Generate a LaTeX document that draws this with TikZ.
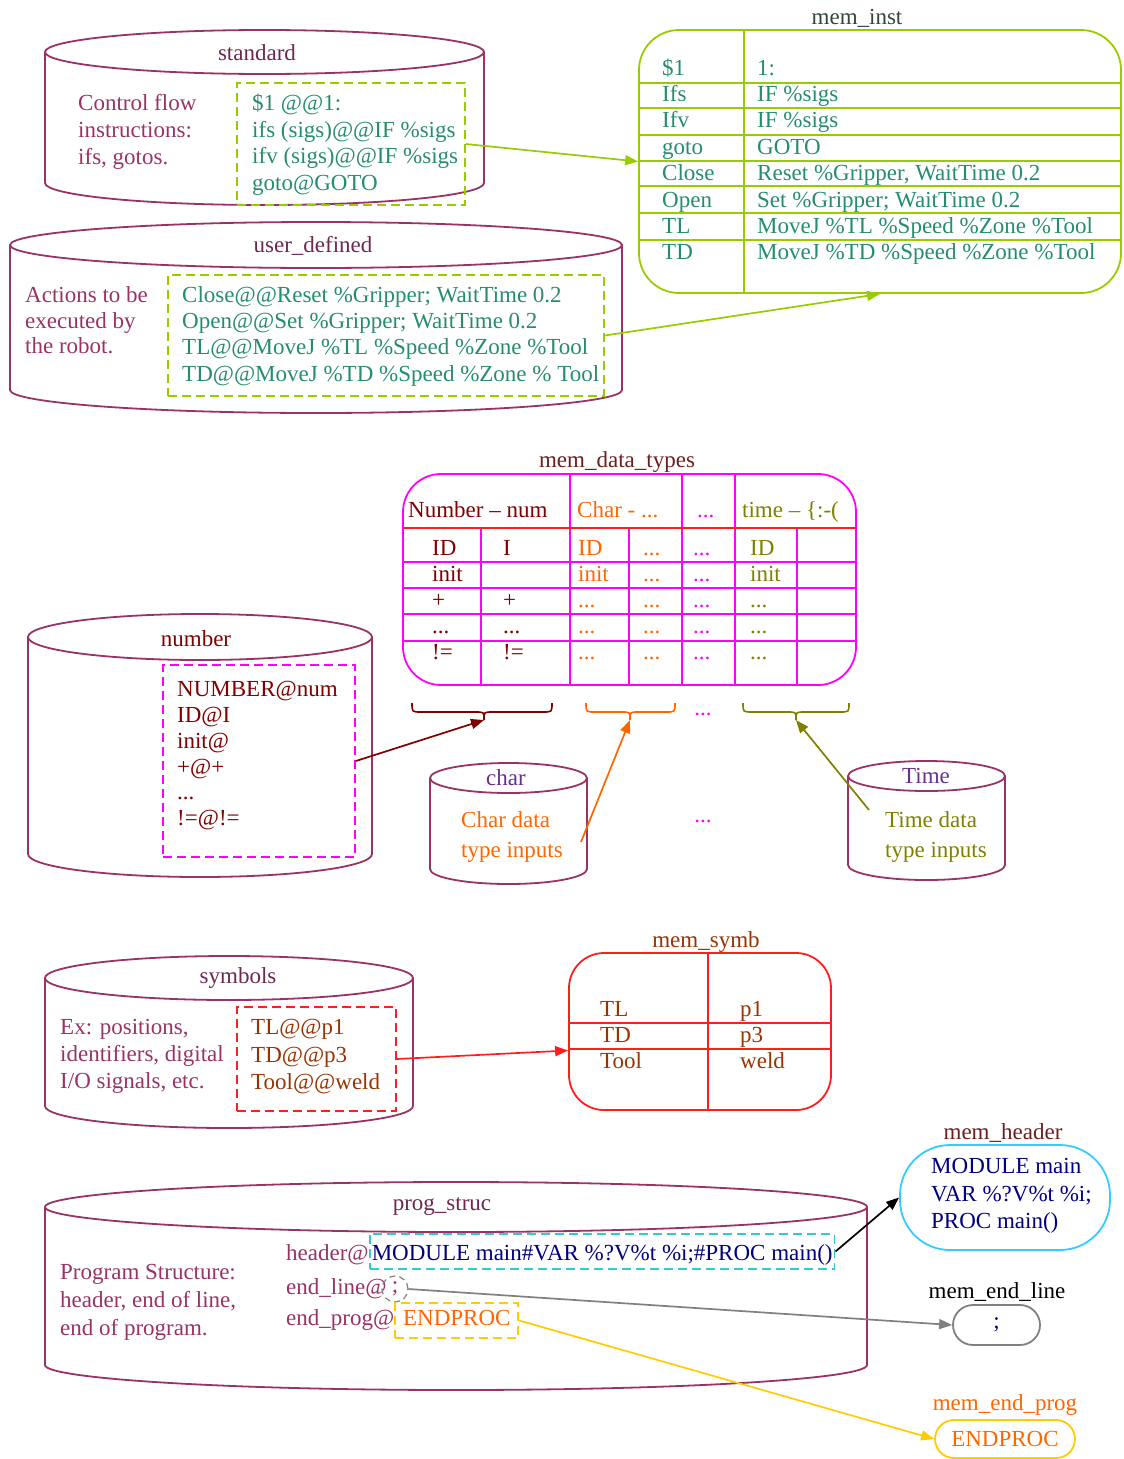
\documentclass[tikz,border=0pt]{standalone}
\usepackage{fontspec}
\setmainfont{Liberation Serif}
\usetikzlibrary{arrows.meta}

\definecolor{drumc}{RGB}{153,51,102}
\definecolor{descc}{RGB}{153,51,102}
\definecolor{ttlc}{RGB}{110,40,80}
\definecolor{codeg}{RGB}{38,140,112}
\definecolor{limeg}{RGB}{153,204,0}
\definecolor{magc}{RGB}{255,0,255}
\definecolor{dredc}{RGB}{128,0,0}
\definecolor{orngc}{RGB}{255,102,0}
\definecolor{olivc}{RGB}{128,128,0}
\definecolor{redc}{RGB}{255,30,30}
\definecolor{brwnc}{RGB}{153,51,0}
\definecolor{cyanc}{RGB}{51,204,204}
\definecolor{navyc}{RGB}{0,0,128}
\definecolor{skyc}{RGB}{51,204,255}
\definecolor{yelc}{RGB}{255,204,0}
\definecolor{grayc}{RGB}{128,128,128}
\definecolor{violc}{RGB}{100,50,140}
\definecolor{instc}{RGB}{50,70,60}
\definecolor{dtc}{RGB}{110,30,30}

% upright drum: left x, right x, top y, bottom y, radius of the end ellipse
\newcommand\drum[5]{%
  \pgfmathsetmacro\dcx{(#1+#2)/2}\pgfmathsetmacro\drx{(#2-#1)/2}%
  \pgfmathsetmacro\dcy{#3+#5}\pgfmathsetmacro\dse{#4-#5}%
  \pgfmathsetmacro\dk{0.5523*#5}\pgfmathsetmacro\dkx{0.5523*\drx}%
  \draw[drumline] (\dcx,\dcy) ellipse [x radius=\drx, y radius=#5];
  \draw[drumline] (#1,\dcy) -- (#1,\dse)
    .. controls (#1,\dse+\dk) and (\dcx-\dkx,#4) .. (\dcx,#4)
    .. controls (\dcx+\dkx,#4) and (#2,\dse+\dk) .. (#2,\dse) -- (#2,\dcy);
}
% curly brace opening upwards, tip pointing down
\newcommand\ubrace[5]{% left x, right x, top y, tip x, colour
  \draw[line width=1.6pt, #5] (#1,#3) .. controls (#1,#3+9) .. (#1+9,#3+9) -- (#4-8,#3+9)
    .. controls (#4,#3+9) .. (#4,#3+17) .. controls (#4,#3+9) .. (#4+8,#3+9)
    -- (#2-9,#3+9) .. controls (#2,#3+9) .. (#2,#3);
}

\begin{document}
\begin{tikzpicture}[x=1pt,y=-1pt,
  font=\fontsize{23}{26.5}\selectfont,
  drumline/.style={draw=drumc, line width=1.8pt},
  blk/.style={anchor=north west, inner sep=0pt, align=left, font=\fontsize{23}{#1}\selectfont},
  blk/.default=26.5,
  lbl/.style={inner sep=0pt},
  bw/.style={anchor=base west, inner sep=0pt},
  dbox/.style={draw=#1, dash pattern=on 9pt off 5pt, line width=1.8pt, inner sep=0pt},
  tbl/.style={draw=#1, line width=1.8pt, inner sep=0pt},
  tline/.style={draw=#1, line width=1.8pt},
  arr/.style={line width=1.7pt, -{Triangle[length=13pt,width=10pt]}},
]
\useasboundingbox (0,0) rectangle (1124,1459);

% ---------- standard ----------
\drum{45}{484}{30}{205}{22}
\node[lbl, text=ttlc] (stdttl) at (257,53) {standard};
\node[dbox=limeg, minimum width=228pt, minimum height=122pt] (stdcode) at (351,144) {};
\node[blk=27, text=descc] (stdtxt) at (78,91.5) {\strut Control flow\\instructions:\\ifs, gotos.};
\node[blk=26.7, text=codeg] (stdlines) at (252,91.5) {\strut \$1 @@1:\\ifs (sigs)@@IF \%sigs\\ifv (sigs)@@IF \%sigs\\goto@GOTO};

% ---------- user_defined ----------
\drum{10}{622}{222}{413}{23}
\node[lbl, text=ttlc] (udttl) at (313,246) {user\_defined};
\node[dbox=limeg, minimum width=436pt, minimum height=121pt] (udcode) at (386,335.5) {};
\node[blk=25.5, text=descc] (udtxt) at (25,284.5) {\strut Actions to be\\executed by\\the robot.};
\node[blk=26.3, text=codeg] (udlines) at (182,283.5) {\strut Close@@Reset \%Gripper; WaitTime 0.2\\Open@@Set \%Gripper; WaitTime 0.2\\TL@@MoveJ \%TL \%Speed \%Zone \%Tool\\TD@@MoveJ \%TD \%Speed \%Zone \% Tool};

% ---------- mem_inst ----------
\node[tbl=limeg, rounded corners=40pt, minimum width=482pt, minimum height=263pt] (meminst) at (880,161.5) {};
\node[lbl, text=instc] (instttl) at (857,18) {mem\_inst};
\draw[tline=limeg] (744,30) -- (744,293);
\foreach \yy in {83,108,135,161,186,213,240}
  \draw[tline=limeg] (639,\yy) -- (1121,\yy);
\node[blk=26.4, text=codeg] (instkeys) at (662,56.5) {\strut \$1\\Ifs\\Ifv\\goto\\Close\\Open\\TL\\TD};
\node[blk=26.4, text=codeg] (instvals) at (757,56.5) {\strut 1:\\IF \%sigs\\IF \%sigs\\GOTO\\Reset \%Gripper, WaitTime 0.2\\Set \%Gripper; WaitTime 0.2\\MoveJ \%TL \%Speed \%Zone \%Tool\\MoveJ \%TD \%Speed \%Zone \%Tool};

\draw[arr, limeg] (stdcode.east) -- (meminst.west);
\draw[arr, limeg] (udcode.east) -- (meminst.south);

% ---------- mem_data_types ----------
\node[tbl=magc, rounded corners=38pt, minimum width=453pt, minimum height=211pt] (memdt) at (629.5,579.5) {};
\node[lbl, text=dtc] (dtttl) at (617,462) {mem\_data\_types};
\foreach \xx in {570,682,735} \draw[tline=magc] (\xx,474) -- (\xx,685);
\foreach \xx in {481,629,797} \draw[tline=magc] (\xx,528) -- (\xx,685);
\foreach \yy in {562,588,614,641} \draw[tline=magc] (403,\yy) -- (856,\yy);
\draw[tline=redc] (403,528) -- (856,528);
\node[bw, text=dredc] (hnum) at (408,517) {Number – num};
\node[bw, text=orngc] (hchar) at (577,517) {Char - ...};
\node[bw, text=magc] (hdots) at (697,517) {...};
\node[bw, text=olivc] (htime) at (742,517) {time – \{:-(};
\node[blk=26, text=dredc] (cola) at (432,537.5) {\strut ID\\init\\+\\...\\!=};
\node[blk=26, text=dredc] (colb) at (503,537.5) {\strut I\\ \\+\\...\\!=};
\node[blk=26, text=orngc] (colc) at (578,537.5) {\strut ID\\init\\...\\...\\...};
\node[blk=26, text=orngc] (cold) at (643,537.5) {\strut ...\\...\\...\\...\\...};
\node[blk=26, text=magc] (cole) at (693,537.5) {\strut ...\\...\\...\\...\\...};
\node[blk=26, text=olivc] (colf) at (750,537.5) {\strut ID\\init\\...\\...\\...};

% braces under the table
\ubrace{412}{552}{703}{484}{dredc}
\ubrace{586}{675}{703}{630}{orngc}
\ubrace{743}{849}{703}{796}{olivc}
\coordinate (numtip) at (484,720);
\coordinate (chartip) at (630,720);
\coordinate (timetip) at (796,720);
\node[lbl, text=magc] (bdots) at (703,714) {...};

% ---------- number ----------
\drum{28}{372}{614}{877}{23}
\node[lbl, text=dredc] (numttl) at (196,639) {number};
\node[dbox=magc, minimum width=192pt, minimum height=192pt] (numcode) at (259,761) {};
\node[blk=25.8, text=dredc] (numlines) at (177,678.5) {\strut NUMBER@num\\ID@I\\init@\\+@+\\...\\!=@!=};
\draw[arr, dredc] (numcode.east) -- (numtip);

% ---------- char ----------
\drum{430}{587}{763}{884}{15}
\node[lbl, text=violc] (charttl) at (506,778) {char};
\node[blk=30, text=orngc] (chartxt) at (461,806.5) {\strut Char data\\type inputs};
\coordinate (charfoot) at (581,842);
\draw[arr, orngc] (charfoot) -- (chartip);

\node[lbl, text=magc] (middots) at (703,821) {...};

% ---------- Time ----------
\drum{848}{1005}{761}{880}{15}
\node[lbl, text=violc] (timettl) at (926,776) {Time};
\node[blk=30, text=olivc] (timetxt) at (885,806.5) {\strut Time data\\type inputs};
\coordinate (timefoot) at (869,810);
\draw[arr, olivc] (timefoot) -- (timetip);

% ---------- symbols ----------
\drum{45}{413}{956}{1128}{22}
\node[lbl, text=ttlc] (symttl) at (238,978) {symbols};
\node[dbox=redc, minimum width=159pt, minimum height=104pt] (symcode) at (316.5,1059) {};
\node[blk=27, text=descc] (symtxt) at (60,1015.5) {\strut Ex: positions,\\identifiers, digital\\I/O signals, etc.};
\node[blk=27.5, text=brwnc] (symlines) at (251,1015.5) {\strut TL@@p1\\TD@@p3\\Tool@@weld};

% ---------- mem_symb ----------
\node[tbl=redc, rounded corners=35pt, minimum width=262pt, minimum height=157pt] (memsymb) at (700,1031.5) {};
\node[lbl, text=brwnc] (symbttl) at (706,942) {mem\_symb};
\draw[tline=redc] (708,953) -- (708,1110);
\draw[tline=redc] (569,1023) -- (831,1023);
\draw[tline=redc] (569,1049) -- (831,1049);
\node[blk=26, text=brwnc] (symbkeys) at (600,998.5) {\strut TL\\TD\\Tool};
\node[blk=26, text=brwnc] (symbvals) at (740,998.5) {\strut p1\\p3\\weld};
\draw[arr, redc] (symcode.east) -- ([yshift=-19pt]memsymb.west);

% ---------- prog_struc ----------
\drum{45}{867}{1182}{1390}{25}
\node[lbl, text=ttlc] (psttl) at (442,1206) {prog\_struc};
\node[blk=28, text=descc] (pstxt) at (60,1259.5) {\strut Program Structure:\\header, end of line,\\end of program.};
\node[bw, text=descc] (hdr) at (286,1260) {header@};
\node[anchor=base west, dbox=cyanc, text=navyc, inner xsep=2pt, inner ysep=6pt, text height=20pt, text depth=3pt] (hdrv) at (hdr.base east) {MODULE main\#VAR \%?V\%t \%i;\#PROC main()};
\node[bw, text=descc] (endl) at (286,1294) {end\_line@};
\node[circle, draw=grayc, dash pattern=on 6pt off 4pt, line width=1.2pt, minimum size=26pt, inner sep=0pt, text=descc] (elsemi) at (395,1289) {;};
\node[bw, text=descc] (endp) at (286,1325) {end\_prog@};
\node[anchor=base west, dbox=yelc, text=orngc, inner xsep=3pt, inner ysep=6pt, text height=16pt, text depth=7pt, minimum width=123pt] (epv) at (endp.base east) {ENDPROC};

% ---------- small memories ----------
\node[tbl=skyc, rounded corners=50pt, minimum width=210pt, minimum height=105pt] (memheader) at (1005,1197.5) {};
\node[lbl, text=dtc] (hdrttl) at (1003,1133) {mem\_header};
\node[blk=27.5, text=navyc] (hdrlines) at (931,1154.5) {\strut MODULE main\\VAR \%?V\%t \%i;\\PROC main()};

\node[tbl=grayc, rounded corners=20pt, minimum width=87pt, minimum height=40pt, text=navyc] (memendline) at (996.5,1325) {;};
\node[lbl] (elttl) at (997,1292) {mem\_end\_line};

\node[tbl=yelc, rounded corners=19pt, minimum width=140pt, minimum height=38pt, text=orngc] (memendprog) at (1005,1439) {ENDPROC};
\node[lbl, text=orngc] (epttl) at (1005,1405) {mem\_end\_prog};

\draw[arr, black] (hdrv.east) -- (memheader.west);
\draw[arr, grayc] (elsemi.east) -- (memendline.west);
\draw[arr, yelc] (epv.east) -- (memendprog.west);
\end{tikzpicture}
\end{document}
